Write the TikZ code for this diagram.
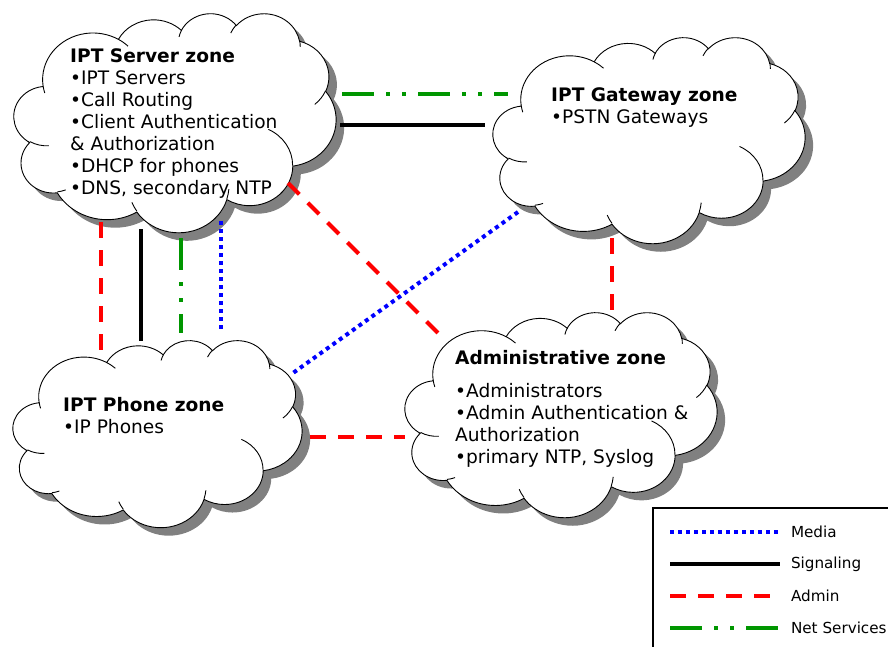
\documentclass[tikz,border=0pt]{standalone}
\usepackage{fontspec}
\setmainfont{DejaVu Sans}
\usetikzlibrary{positioning}
\definecolor{netgreen}{RGB}{0,150,0}
\tikzset{
    declare function={vp(\a,\k)=\a+atan(((\k-1)*sin(\a)*cos(\a))/(cos(\a)^2+\k*sin(\a)^2));},
    % elliptic arc from radii and (visual) start/sweep angles, y pointing down
    oarc/.style n args={4}{x radius={#1*\cw*1pt}, y radius={#2*\ch*1pt},
        start angle={-vp(#3,#1/#2)}, end angle={-vp(#3+#4,#1/#2)}},
    zonebox/.style={rectangle, inner sep=0pt, anchor=north west},
    cloudline/.style={draw=black, line width=0.9pt},
    cloudshadow/.style={fill=black!50},
    zonetext/.style={anchor=north west, align=left, inner sep=0pt, font=\fontsize{18.6}{22}\selectfont},
    keytext/.style={inner sep=0pt, font=\fontsize{15.2}{18}\selectfont},
    media/.style={blue, line width=4pt, dash pattern=on 4pt off 4pt},
    signaling/.style={black, line width=4pt},
    admin/.style={red, line width=4pt, dash pattern=on 16pt off 12pt},
    netsvc/.style={netgreen, line width=4pt, dash pattern=on 32pt off 12pt on 4pt off 12pt on 4pt off 12pt},
}
% outline arcs: x radius/y radius/start/sweep, on a 432x432 frame
\def\cloudarcs{67.53/91.90/-190.49/123.78, 53.33/72.67/-144.10/89.95, 43.65/59.45/-145.81/99.72,
    48.57/65.95/-130.99/117.24, 53.33/72.73/-78.71/109.03, 67.75/92.20/-46.27/130.27,
    57.85/78.67/0.625/114.03, 67.52/92.15/22.45/115.17, 77.20/105.43/66.24/75.71,
    43.60/59.18/-274.94/146.74, 43.45/59.45/-246.83/152.52}
% inner curls: start x/start y/x radius/y radius/start/sweep
\def\cloudcurls{46.93/261.77/43.45/59.45/86.74/26.43, 69.28/348.99/43.60/59.18/73.61/11.45,
    164.78/390.90/67.52/92.15/137.62/14.08, 288.27/347.51/67.52/92.15/6.45/16.00,
    341.29/229.54/57.85/78.67/-70.29/70.92, 417.98/153.54/53.33/72.73/30.32/27.75,
    383.24/54.26/48.57/65.95/-13.74/14.86, 290.78/39.52/48.57/65.95/-149.18/18.20,
    221.41/47.20/43.65/59.45/-163.49/17.69, 140.00/51.92/67.53/91.90/-66.71/12.32,
    41.27/157.89/67.53/91.90/157.65/11.86}
% \zone{name}{left}{top}{width}{height}
\newcommand{\zone}[5]{%
    \node[zonebox, minimum width=#4, minimum height=#5] (#1) at (#2,#3) {};
    \pgfmathsetmacro\cw{#4/432}
    \pgfmathsetmacro\ch{#5/432}
    \begin{scope}[shift={(#2+8,#3+8)}, x=\cw pt, y=-\ch pt]
        \fill[cloudshadow] (39.00,143.70) \foreach \rx/\ry/\st/\sw in \cloudarcs {arc[oarc={\rx}{\ry}{\st}{\sw}]} -- cycle;
    \end{scope}
    \begin{scope}[shift={(#2,#3)}, x=\cw pt, y=-\ch pt]
        \filldraw[cloudline, fill=white] (39.00,143.70) \foreach \rx/\ry/\st/\sw in \cloudarcs {arc[oarc={\rx}{\ry}{\st}{\sw}]} -- cycle;
        \foreach \px/\py/\rx/\ry/\st/\sw in \cloudcurls
            \draw[cloudline] (\px,\py) arc[oarc={\rx}{\ry}{\st}{\sw}];
    \end{scope}
}

\begin{document}
\begin{tikzpicture}[x=1pt, y=-1pt]
    \useasboundingbox (0,0) rectangle (888,646);
    % zones
    \zone{srv}{14}{13}{322}{219}
    \zone{gw}{493}{37}{312}{206}
    \zone{phone}{13}{340}{289}{187}
    \zone{adm}{405}{312}{312}{205}
    \node[zonetext] (srvtxt) at (70,48) {\textbf{IPT Server zone}\\ •IPT Servers\\ •Call Routing\\
        •Client Authentication\\ \& Authorization\\ •DHCP for phones\\ •DNS, secondary NTP};
    \node[zonetext] (gwtxt) at (551,87) {\textbf{IPT Gateway zone}\\ •PSTN Gateways};
    \node[zonetext] (phonetxt) at (63,397) {\textbf{IPT Phone zone}\\ •IP Phones};
    \node[zonetext] (admtxt) at (455,350) {\textbf{Administrative zone}\\[11pt] •Administrators\\
        •Admin Authentication \&\\ Authorization\\ •primary NTP, Syslog};
    % link ends
    \foreach \n/\x/\y in {s1/101/222, p1/101/350, s2/141/229, p2/141/341, s3/181/238, p3/181/333,
            s4/221/221, p4/221/329, s5/342/94, g5/508/94, s6/340/125, g6/485/125, s7/288/183, a7/440/335,
            g8/518/212, p8/293/373, g9/612/238, a9/612/310, p10/310/437, a10/405/437}
        \coordinate (\n) at (\x,\y);
    \draw[admin] (s1) -- (p1);
    \draw[signaling] (s2) -- (p2);
    \draw[netsvc] (s3) -- (p3);
    \draw[media] (s4) -- (p4);
    \draw[netsvc] (s5) -- (g5);
    \draw[signaling] (s6) -- (g6);
    \draw[admin] (s7) -- (a7);
    \draw[media] (g8) -- (p8);
    \draw[admin] (g9) -- (a9);
    \draw[admin] (p10) -- (a10);
    % legend
    \draw[line width=1.2pt] (653,660) -- (653,508) -- (900,508);
    \foreach \st/\y/\txt in {media/532/Media, signaling/564/Signaling, admin/596/Admin, netsvc/628/Net Services}
        \draw[\st] (670,\y) -- (780,\y) node[keytext, black, right=9pt] (key-\st) {\txt};
\end{tikzpicture}
\end{document}
